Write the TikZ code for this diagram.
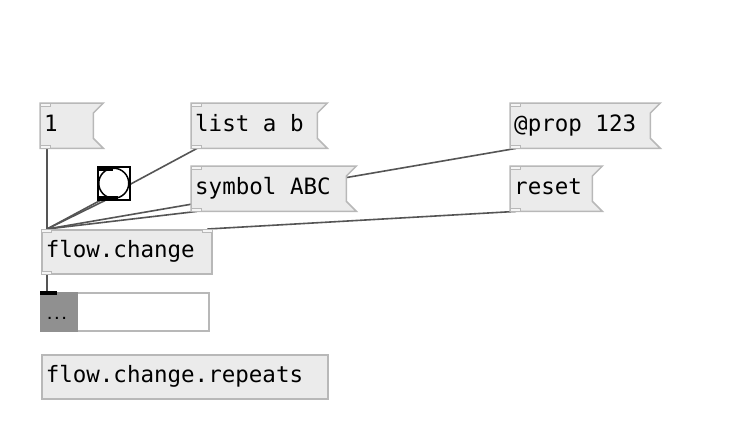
\documentclass[tikz,border=0pt]{standalone}
\usepackage{fontspec}
\newfontfamily\pdmono{DejaVu Sans Mono}
\newcommand{\pdfont}{\pdmono\fontsize{22.5}{26}\selectfont}
\usetikzlibrary{positioning}
\definecolor{boxfill}{HTML}{EBEBEB}
\definecolor{boxline}{HTML}{B8B8B8}
\definecolor{wire}{HTML}{555555}
\definecolor{atomgrey}{HTML}{909090}
\pgfdeclarelayer{wires}
\pgfdeclarelayer{boxes}
\pgfsetlayers{wires,boxes,main}

% message box outline with the flag on the right
\newcommand{\msgflag}[1]{%
  \begin{pgfonlayer}{boxes}
    \draw[flag] (#1.north west) -- (#1.north east)
      -- ([shift={(-10pt,-10pt)}]#1.north east)
      -- ([shift={(-10pt,10pt)}]#1.south east)
      -- (#1.south east) -- (#1.south west) -- cycle;
  \end{pgfonlayer}}
\newcommand{\iolet}[1]{\draw[ioslot] (#1) rectangle ++(10pt,-3pt);}

\begin{document}
\begin{tikzpicture}[
  x=1pt, y=-1pt,
  pdtext/.style={font=\pdfont, text height=17pt, text depth=5pt,
    inner xsep=4pt, inner ysep=0pt, align=flush left, anchor=north west, rectangle},
  msg/.style={pdtext, minimum height=45pt},
  obj/.style={pdtext, minimum height=44pt, fill=boxfill, draw=boxline, line width=1.5pt},
  flag/.style={fill=boxfill, draw=boxline, line width=1.5pt},
  ioslot/.style={fill=boxfill!50, draw=boxline, line width=1pt},
  wireline/.style={draw=wire, line width=1.6pt},
]
\useasboundingbox (0,0) rectangle (750,432);

\node[msg, text width=55pt] (one) at (40,103) {1};
\msgflag{one}
\node[msg, text width=128pt] (lista) at (191,103) {list a b};
\msgflag{lista}
\node[msg, text width=142pt] (prop) at (510,103) {@prop 123};
\msgflag{prop}
\node[msg, text width=157pt] (symbol) at (191,166) {symbol ABC};
\msgflag{symbol}
\node[msg, text width=84pt] (reset) at (510,166) {reset};
\msgflag{reset}
\foreach \m in {one,lista,prop,symbol,reset} {
  \iolet{\m.north west}
  \iolet{[yshift=3pt]\m.south west}
}

% bang
\node[draw=black, line width=1.5pt, fill=white, minimum width=32pt, minimum height=33pt,
  inner sep=0pt, anchor=north west] (bang) at (97,166) {};
\draw[line width=1.5pt, fill=white] (bang.center) circle[radius=15pt];
\fill (bang.north west) rectangle ++(16pt,-5pt);
\fill ([yshift=5pt]bang.south west) rectangle ++(21pt,-5pt);

\node[obj, text width=162pt] (change) at (41,229) {flow.change};
\iolet{change.north west}
\iolet{[xshift=-10pt]change.north east}
\iolet{[yshift=3pt]change.south west}

% list display
\node[draw=boxline, line width=1.5pt, fill=white, minimum width=168pt, minimum height=38pt,
  inner sep=0pt, anchor=north west] (display) at (40,292) {};
\fill[atomgrey] (display.north west) rectangle ([xshift=38pt]display.south west);
\fill[black] ([yshift=1pt]display.north west) rectangle ++(17pt,-3.5pt);
\node[font=\pdmono\bfseries\fontsize{12}{14}\selectfont, anchor=base west, inner sep=0pt]
  (dots) at ([shift={(6pt,-27pt)}]display.north west) {...};

\node[obj, text width=278pt] (repeats) at (41,354) {flow.change.repeats};

\begin{pgfonlayer}{wires}
\fill[white] (0,0) rectangle (750,432);
\draw[wireline] ([xshift=7pt]one.south west) -- ([xshift=6pt]change.north west);
\draw[wireline] ([xshift=6pt]lista.south west) -- ([xshift=6pt]change.north west);
\draw[wireline] ([xshift=8pt]bang.south west) -- ([xshift=6pt]change.north west);
\draw[wireline] ([xshift=6pt]symbol.south west) -- ([xshift=6pt]change.north west);
\draw[wireline] ([xshift=6pt]prop.south west) -- ([xshift=6pt]change.north west);
\draw[wireline] ([xshift=6pt]reset.south west) -- ([xshift=-5pt]change.north east);
\draw[wireline] ([xshift=6pt]change.south west) -- ([xshift=7pt]display.north west);
\end{pgfonlayer}
\end{tikzpicture}
\end{document}
